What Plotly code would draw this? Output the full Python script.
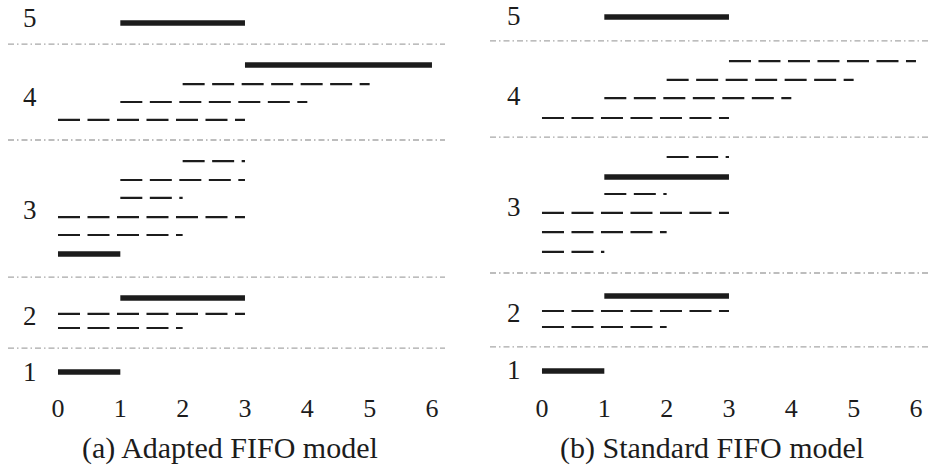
import plotly.graph_objects as go

# ---------------- data ----------------
# Panel (a): Adapted FIFO model
a_start = [1, 3, 2, 1, 0, 2, 1, 1, 0, 0, 0, 1, 0, 0, 0]
a_end   = [3, 6, 5, 4, 3, 3, 3, 2, 3, 2, 1, 3, 3, 2, 1]
a_row   = [18.82, 16.67, 15.69, 14.77, 13.85, 11.74, 10.77, 9.85, 8.87, 7.95,
           6.97, 4.72, 3.90, 3.18, 0.92]
a_kind  = ["solid", "solid", "dash", "dash", "dash", "dash", "dash", "dash",
           "dash", "dash", "solid", "solid", "dash", "dash", "solid"]
a_sep   = [17.74, 12.82, 5.79, 2.15]
a_group_row = [19.08, 15.03, 9.23, 3.79, 0.92]

# Panel (b): Standard FIFO model
b_start = [1, 3, 2, 1, 0, 2, 1, 1, 0, 0, 0, 1, 0, 0, 0]
b_end   = [3, 6, 5, 4, 3, 3, 3, 2, 3, 2, 1, 3, 3, 2, 1]
b_row   = [19.13, 16.87, 15.90, 14.97, 13.95, 11.95, 10.92, 10.05, 9.08, 8.10,
           7.08, 4.82, 4.05, 3.23, 0.97]
b_kind  = ["solid", "dash", "dash", "dash", "dash", "dash", "solid", "dash",
           "dash", "dash", "dash", "solid", "dash", "dash", "solid"]
b_sep   = [17.90, 12.97, 6.00, 2.21]
b_group_row = [19.2, 15.08, 9.38, 3.95, 1.03]

group_labels = ["5", "4", "3", "2", "1"]
x_ticks = [0, 1, 2, 3, 4, 5, 6]
titles = ["(a) Adapted FIFO model", "(b) Standard FIFO model"]

# ---------------- figure ----------------
W, H = 928, 475
FONT = "Liberation Serif"
INK = "#1c1c1c"

fig = go.Figure()

panels = [
    (a_start, a_end, a_row, a_kind, a_sep, a_group_row, "x", "y"),
    (b_start, b_end, b_row, b_kind, b_sep, b_group_row, "x2", "y2"),
]

for (st, en, rw, kd, seps, grows, xa, ya) in panels:
    for s, e, r, k in zip(st, en, rw, kd):
        if k == "solid":
            line = dict(color=INK, width=5.5)
        else:
            line = dict(color=INK, width=2.2, dash="22px,7.5px")
        fig.add_trace(go.Scatter(x=[s, e], y=[r, r], mode="lines", line=line,
                                 xaxis=xa, yaxis=ya, hoverinfo="skip",
                                 showlegend=False))
    for sy in seps:
        fig.add_shape(type="line", xref=f"{xa} domain", yref=ya,
                      x0=0, x1=1, y0=sy, y1=sy,
                      line=dict(color="#a8a8a8", width=1.3,
                                dash="6px,3px,1.5px,3px"))
    for lbl, gy in zip(group_labels, grows):
        fig.add_annotation(x=-0.45, y=gy, xref=xa, yref=ya, text=lbl,
                           showarrow=False, xanchor="center", yanchor="middle",
                           font=dict(family=FONT, size=27, color=INK))

axis_common = dict(tickvals=x_ticks, ticktext=[str(t) for t in x_ticks],
                   showgrid=False, zeroline=False, showline=False, ticks="",
                   tickfont=dict(family=FONT, size=26, color=INK),
                   fixedrange=True)
yaxis_common = dict(range=[0, 20], visible=False, fixedrange=True)

fig.update_layout(
    width=W, height=H,
    margin=dict(l=0, r=0, t=0, b=85),
    paper_bgcolor="white", plot_bgcolor="white",
    xaxis=dict(domain=[8 / W, 445 / W], range=[-0.802, 6.209], **axis_common),
    xaxis2=dict(domain=[490 / W, 1.0], range=[-0.834, 6.193], anchor="y2",
                **axis_common),
    yaxis=dict(domain=[0, 1], anchor="x", **yaxis_common),
    yaxis2=dict(domain=[0, 1], anchor="x2", **yaxis_common),
)

for t, xc in zip(titles, [230 / W, 712 / W]):
    fig.add_annotation(x=xc, y=-58 / 390, xref="paper", yref="paper", text=t,
                       showarrow=False, xanchor="center", yanchor="middle",
                       font=dict(family=FONT, size=30, color=INK))

fig.write_html(
    "out.html",
    config={"displayModeBar": False},
    post_script="document.body.style.margin='0px';"
                "document.body.style.overflow='hidden';",
)
